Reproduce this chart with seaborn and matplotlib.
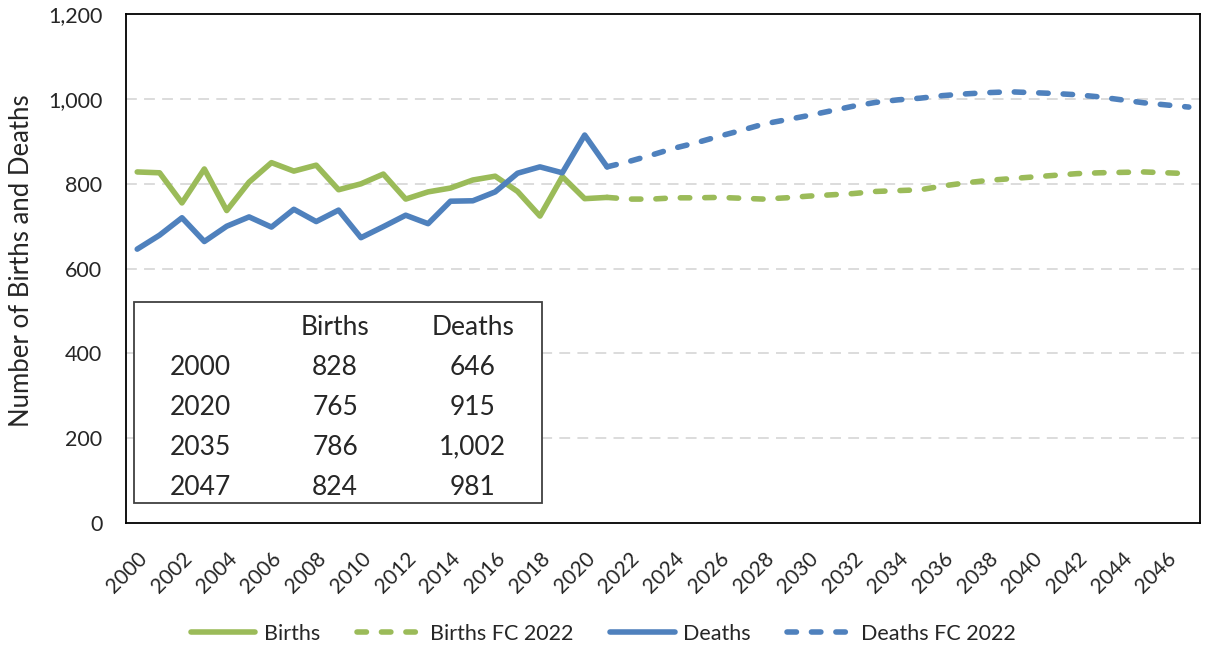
import matplotlib
matplotlib.use("Agg")
import matplotlib.pyplot as plt
from matplotlib.lines import Line2D
from matplotlib.patches import Rectangle
from matplotlib.ticker import FuncFormatter
import seaborn as sns

# Données
years_actual = list(range(2000, 2022))
births_actual = [828, 826, 755, 835, 737, 804, 850, 830, 844, 786, 800,
                 823, 764, 781, 790, 809, 818, 782, 724, 817, 765, 768]
deaths_actual = [646, 679, 720, 664, 700, 722, 698, 740, 711, 738, 673,
                 699, 726, 706, 759, 760, 781, 825, 840, 826, 915, 840]

years_fc = list(range(2021, 2048))
births_fc = [768, 764, 764, 767, 767, 768, 766, 764, 767, 771, 774, 777, 782, 784,
             786, 795, 802, 808, 812, 816, 820, 824, 826, 827, 828, 826, 824]
deaths_fc = [840, 853, 868, 884, 897, 912, 926, 941, 951, 961, 972, 983, 992, 998,
             1002, 1008, 1012, 1015, 1017, 1015, 1013, 1010, 1005, 998, 991, 986, 981]

table_years = ["2000", "2020", "2035", "2047"]
table_births = ["828", "765", "786", "824"]
table_deaths = ["646", "915", "1,002", "981"]

GREEN = "#9BBB59"
BLUE = "#4F81BD"
LW = 4
DASH = (0, (1.7, 2.7))

sns.set_style("white")
plt.rcParams['font.family'] = ['Lato', 'DejaVu Sans']

fig = plt.figure(figsize=(12.06, 6.45), dpi=100)
ax = fig.add_axes([0.1045, 0.189, 0.8905, 0.789])

common = dict(linewidth=LW, solid_capstyle='round', solid_joinstyle='round',
              dash_capstyle='round', ax=ax)
sns.lineplot(x=years_fc, y=births_fc, color=GREEN, linestyle=DASH, **common)
sns.lineplot(x=years_fc, y=deaths_fc, color=BLUE, linestyle=DASH, **common)
sns.lineplot(x=years_actual, y=births_actual, color=GREEN, **common)
sns.lineplot(x=years_actual, y=deaths_actual, color=BLUE, **common)

ax.set_xlim(1999.5, 2047.5)
ax.set_ylim(0, 1200)
ax.set_yticks(range(0, 1201, 200))
ax.yaxis.set_major_formatter(FuncFormatter(lambda v, p: f"{int(v):,}"))
ax.set_xticks(range(2000, 2047, 2))
ax.set_xticklabels([str(y) for y in range(2000, 2047, 2)], rotation=45,
                   ha='right', rotation_mode='anchor')
ax.tick_params(axis='y', labelsize=15.5, length=0, pad=17)
ax.tick_params(axis='x', labelsize=15, length=0, pad=18)

for v in range(200, 1200, 200):
    ax.axhline(v, color='#D9D9D9', linewidth=1.3, linestyle=(0, (6, 4)), zorder=0)

for s in ax.spines.values():
    s.set_visible(True)
    s.set_color('black')
    s.set_linewidth(1.3)

ax.set_ylabel("Number of Births and Deaths", fontsize=18.5)
ax.yaxis.set_label_coords(-0.0857, 0.515)
ax.set_xlabel("")

# Petit tableau en bas à gauche
ax.add_patch(Rectangle((0.0074, 0.039), 0.3799, 0.395, transform=ax.transAxes,
                       facecolor='white', edgecolor='#404040', linewidth=1.3, zorder=5))
col_x = [0.069, 0.1946, 0.323]
row_y = [0.385, 0.3065, 0.228, 0.149, 0.0707]
ax.text(col_x[1], row_y[0], "Births", transform=ax.transAxes, ha='center',
        va='center', fontsize=19, zorder=6)
ax.text(col_x[2], row_y[0], "Deaths", transform=ax.transAxes, ha='center',
        va='center', fontsize=19, zorder=6)
for i in range(len(table_years)):
    for j, val in enumerate([table_years[i], table_births[i], table_deaths[i]]):
        ax.text(col_x[j], row_y[i + 1], val, transform=ax.transAxes, ha='center',
                va='center', fontsize=19, zorder=6)

handles = [
    Line2D([], [], color=GREEN, linewidth=LW, solid_capstyle='round'),
    Line2D([], [], color=GREEN, linewidth=LW, linestyle=DASH, dash_capstyle='round'),
    Line2D([], [], color=BLUE, linewidth=LW, solid_capstyle='round'),
    Line2D([], [], color=BLUE, linewidth=LW, linestyle=DASH, dash_capstyle='round'),
]
labels = ["Births", "Births FC 2022", "Deaths", "Deaths FC 2022"]
fig.legend(handles, labels, loc='center', bbox_to_anchor=(0.5, 1 - 634 / 645),
           ncol=4, frameon=False, fontsize=15.5, handlelength=3.0,
           columnspacing=1.7, handletextpad=0.4)

fig.savefig("out.png", dpi=100)
